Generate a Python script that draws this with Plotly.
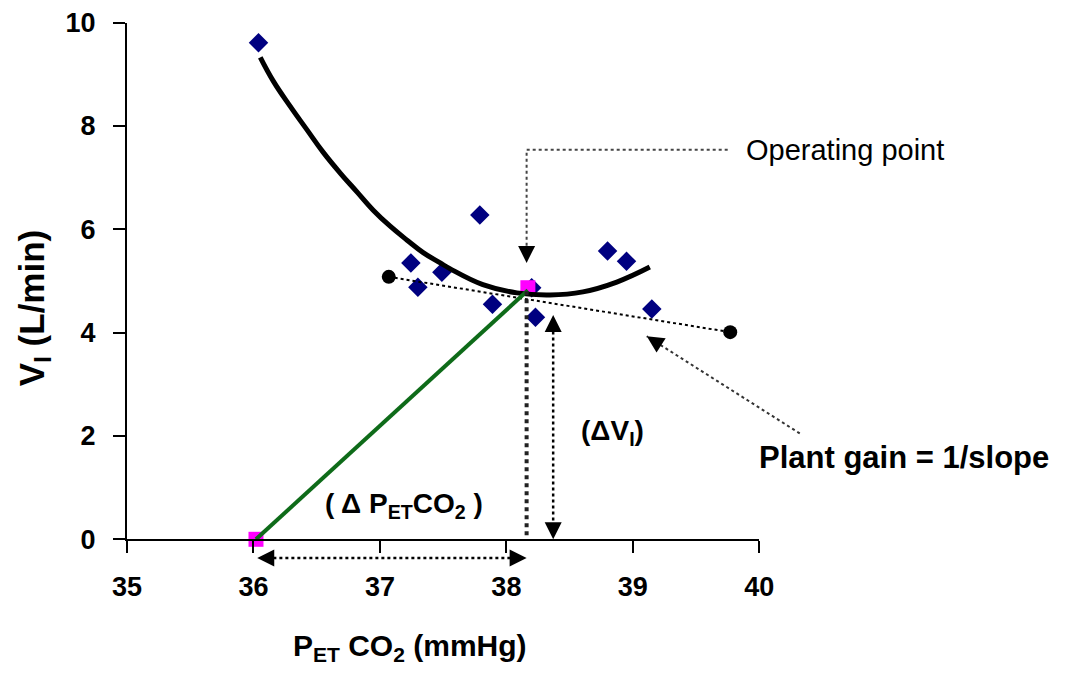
import plotly.graph_objects as go

# ---- data ----
obs_x = [36.04, 37.245, 37.30, 37.49, 37.79, 37.89, 38.20, 38.23, 38.80, 38.95, 39.15]
obs_y = [9.61, 5.35, 4.88, 5.17, 6.28, 4.55, 4.87, 4.30, 5.58, 5.38, 4.46]

curve_x = [36.054, 36.157, 36.291, 36.425, 36.552, 36.686, 36.820, 36.947, 37.081,
           37.215, 37.342, 37.477, 37.553, 37.814, 38.083, 38.344, 38.605, 38.873, 39.134]
curve_y = [9.33, 8.87, 8.38, 7.92, 7.49, 7.09, 6.72, 6.37, 6.06,
           5.79, 5.55, 5.35, 5.24, 4.93, 4.77, 4.73, 4.79, 4.98, 5.27]

reg_x = [37.07, 39.77]
reg_y = [5.08, 4.01]

op_x, op_y = 38.17, 4.87          # operating point
base_x, base_y = 36.02, 0.0       # intercept point on x axis

dv_x = 38.37                      # delta V arrow position
dv_top = 4.34
dp_y = -0.36                      # delta P arrow position
dp_left, dp_right = 36.03, 38.16

op_leader_x = [39.75, 38.16, 38.16]
op_leader_y = [7.54, 7.54, 5.35]
gain_leader_x = [40.32, 39.11]
gain_leader_y = [2.05, 3.93]

x_ticks = [35, 36, 37, 38, 39, 40]
y_ticks = [0, 2, 4, 6, 8, 10]
x_range = [35, 40]
y_range = [0, 10]

FONT = "Liberation Sans, Arial, sans-serif"

# ---- layout geometry (pixels, page coordinates; page body has an 8px margin) ----
W, H = 1065, 679
OFF = 8
PL, PR, PT, PB = 127 - OFF, 759.3 - OFF, 22.7 - OFF, 539.3 - OFF   # plot area edges
dom_x = [PL / W, PR / W]
dom_y = [(H - PB) / H, (H - PT) / H]
# full-page overlay axes with the same scale (for marks outside the plot area)
sx = (PR - PL) / (x_range[1] - x_range[0])
sy = (PB - PT) / (y_range[1] - y_range[0])
x2_range = [x_range[0] - PL / sx, x_range[0] + (W - PL) / sx]
y2_range = [y_range[0] - (H - PB) / sy, y_range[0] + PB / sy]

fig = go.Figure()

# observed points
fig.add_trace(go.Scatter(x=obs_x, y=obs_y, mode="markers",
                         marker=dict(symbol="diamond", size=15, color="#000080"),
                         cliponaxis=False, showlegend=False))
# operating point & base squares
fig.add_trace(go.Scatter(x=[op_x, base_x], y=[op_y, base_y], mode="markers",
                         marker=dict(symbol="square", size=15, color="#ff00ff"),
                         cliponaxis=False, showlegend=False))
# fitted curve
fig.add_trace(go.Scatter(x=curve_x, y=curve_y, mode="lines",
                         line=dict(color="black", width=5, shape="spline", smoothing=1.2),
                         showlegend=False))
# regression (slope) dotted line with end circles
fig.add_trace(go.Scatter(x=reg_x, y=reg_y, mode="lines+markers",
                         line=dict(color="black", width=2, dash="dot"),
                         marker=dict(symbol="circle", size=14, color="black"),
                         showlegend=False))
# green line
fig.add_trace(go.Scatter(x=[base_x, op_x], y=[base_y, op_y - 0.05], mode="lines",
                         line=dict(color="#0e6b19", width=4), cliponaxis=False,
                         showlegend=False))
# vertical dotted line from operating point to axis
fig.add_trace(go.Scatter(x=[dp_right, dp_right], y=[op_y - 0.07, 0], mode="lines",
                         line=dict(color="#222222", width=4, dash="dot"),
                         showlegend=False))
# delta V double arrow line
fig.add_trace(go.Scatter(x=[dv_x, dv_x], y=[dv_top - 0.2, 0.2], mode="lines",
                         line=dict(color="black", width=2.5, dash="dot"),
                         showlegend=False))
# operating point leader
fig.add_trace(go.Scatter(x=op_leader_x, y=[op_leader_y[0], op_leader_y[1], op_leader_y[2] + 0.2],
                         mode="lines", line=dict(color="#444444", width=2, dash="dot"),
                         showlegend=False))
# delta P double arrow line (outside plot area -> overlay axes)
fig.add_trace(go.Scatter(x=[dp_left + 0.08, dp_right - 0.08], y=[dp_y, dp_y], mode="lines",
                         line=dict(color="black", width=2.5, dash="dot"),
                         xaxis="x2", yaxis="y2", showlegend=False))
# plant gain leader
fig.add_trace(go.Scatter(x=gain_leader_x, y=gain_leader_y, mode="lines",
                         line=dict(color="#333333", width=2, dash="dot"),
                         xaxis="x2", yaxis="y2", showlegend=False))

# arrowheads (short annotation arrows, tip at the given point)
def head(x, y, ax, ay):
    fig.add_annotation(x=x, y=y, ax=ax, ay=ay, xref="x2", yref="y2",
                       text="", showarrow=True, arrowhead=2, arrowsize=1.7,
                       arrowwidth=2, arrowcolor="black", standoff=0)

head(dv_x, dv_top, 0, 15)
head(dv_x, 0, 0, -15)
head(dp_left, dp_y, 15, 0)
head(dp_right, dp_y, -15, 0)
head(op_leader_x[2], op_leader_y[2], 0, -15)
head(gain_leader_x[1], gain_leader_y[1], 12, 7.6)

# text annotations
def txt(x, y, s, size, bold=True, xanchor="center", angle=0):
    fig.add_annotation(x=x, y=y, xref="x2", yref="y2", text=s, showarrow=False,
                       xanchor=xanchor, yanchor="middle", textangle=angle,
                       font=dict(family=FONT, size=size, color="black",
                                 weight="bold" if bold else "normal"))

txt(37.19, 0.66, "( Δ P<sub>ET</sub>CO<sub>2</sub> )", 28)
txt(38.84, 2.06, "(ΔV<sub>I</sub>)", 28)
txt(39.88, 7.54, "Operating point", 29, bold=False, xanchor="left")
txt(39.98, 1.59, "Plant gain = 1/slope", 31, xanchor="left")
txt(37.24, -2.09, "P<sub>ET</sub> CO<sub>2</sub> (mmHg)", 30)
txt(34.26, 4.48, "V<sub>I</sub> (L/min)", 35, angle=-90)

axis_common = dict(showline=True, linecolor="black", linewidth=2, ticks="outside",
                   ticklen=12, tickwidth=2, tickcolor="black", showgrid=False,
                   zeroline=False, automargin=False,
                   tickfont=dict(family=FONT, size=27, color="black", weight="bold"))

fig.update_layout(
    width=W, height=H, margin=dict(l=0, r=0, t=0, b=0),
    plot_bgcolor="rgba(0,0,0,0)", paper_bgcolor="white", showlegend=False,
    xaxis=dict(domain=dom_x, range=x_range, tickvals=x_ticks, ticklabelstandoff=10,
               anchor="y", **axis_common),
    yaxis=dict(domain=dom_y, range=y_range, tickvals=y_ticks, ticklabelstandoff=12,
               anchor="x", **axis_common),
    xaxis2=dict(domain=[0, 1], range=x2_range, visible=False, anchor="y2",
                fixedrange=True),
    yaxis2=dict(domain=[0, 1], range=y2_range, visible=False, anchor="x2",
                fixedrange=True),
)

fig.write_html("out.html")
